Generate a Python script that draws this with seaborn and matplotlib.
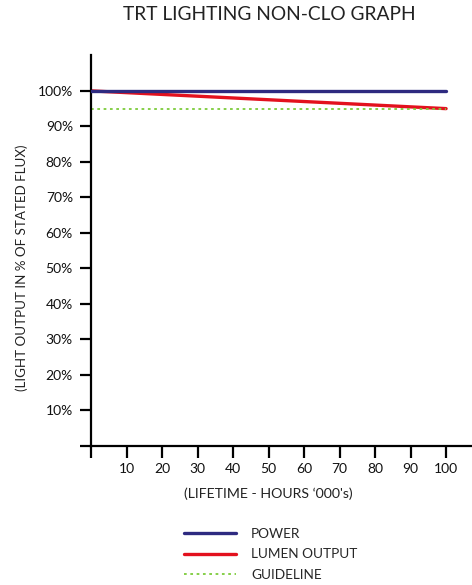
import pandas as pd
import matplotlib
matplotlib.use('Agg')
import matplotlib.pyplot as plt
import seaborn as sns

# Chart data
hours = [0, 100]
power = [100, 100]
lumen_output = [100, 95]
guideline = [95, 95]

x_ticks = [0, 10, 20, 30, 40, 50, 60, 70, 80, 90, 100]
x_tick_labels = ['', '10', '20', '30', '40', '50', '60', '70', '80', '90', '100']
y_ticks = [0, 10, 20, 30, 40, 50, 60, 70, 80, 90, 100]
y_tick_labels = ['', '10%', '20%', '30%', '40%', '50%', '60%', '70%', '80%', '90%', '100%']

sns.set_style('white')
plt.rcParams['font.family'] = ['Lato', 'DejaVu Sans']

df = pd.DataFrame({
    'Hours': hours * 3,
    'Value': power + lumen_output + guideline,
    'Series': ['POWER'] * 2 + ['LUMEN OUTPUT'] * 2 + ['GUIDELINE'] * 2,
})

fig = plt.figure(figsize=(4.72, 5.85), dpi=100)
ax = fig.add_axes([91 / 472, 139 / 585, 381 / 472, 391 / 585])

palette = {'POWER': '#2e2a80', 'LUMEN OUTPUT': '#e3111e', 'GUIDELINE': '#7dcc3c'}
widths = {'POWER': 2.4, 'LUMEN OUTPUT': 2.4, 'GUIDELINE': 1.3}
styles = {'POWER': '-', 'LUMEN OUTPUT': '-', 'GUIDELINE': (0, (1.5, 2))}

for name in ['POWER', 'LUMEN OUTPUT', 'GUIDELINE']:
    sub = df[df['Series'] == name]
    sns.lineplot(data=sub, x='Hours', y='Value', ax=ax, color=palette[name],
                 linewidth=widths[name], linestyle=styles[name], label=name,
                 zorder=3 if name == 'POWER' else 2)

ax.set_xlim(0, 107.3)
ax.set_ylim(0, 110.1)
ax.set_xticks(x_ticks)
ax.set_xticklabels(x_tick_labels)
ax.set_yticks(y_ticks)
ax.set_yticklabels(y_tick_labels)

for side in ['top', 'right']:
    ax.spines[side].set_visible(False)
for side in ['left', 'bottom']:
    ax.spines[side].set_linewidth(1.6)
    ax.spines[side].set_color('black')

ax.tick_params(axis='x', direction='out', length=8.5, width=1.6, pad=4,
               labelsize=10, colors='black', bottom=True)
ax.tick_params(axis='y', direction='out', length=8, width=1.6, pad=5,
               labelsize=10, colors='black', left=True)
for lab in ax.get_xticklabels() + ax.get_yticklabels():
    lab.set_color('#111111')

ax.set_xlabel("(LIFETIME - HOURS \u2018000's)", fontsize=10.2, color='#222222', va='center')
ax.set_ylabel('(LIGHT OUTPUT IN % OF STATED FLUX)', fontsize=9.6, color='#222222', va='center')
ax.xaxis.set_label_coords((268 - 91) / 381, -(494 - 446) / 391)
ax.yaxis.set_label_coords((22 - 91) / 381, (446 - 268) / 391)

fig.text(269 / 472, 1 - 15 / 585, 'TRT LIGHTING NON-CLO GRAPH', ha='center', va='center',
         fontsize=13.8, color='#222222')

h, l = ax.get_legend_handles_labels()
ax.legend_.remove()
leg = fig.legend(h, l, loc='upper left', bbox_to_anchor=(172 / 472, 1 - 516 / 585),
                 frameon=False, fontsize=9.8, handlelength=3.8, handletextpad=1.1,
                 labelspacing=0.6)

fig.savefig('out.png', dpi=100)
